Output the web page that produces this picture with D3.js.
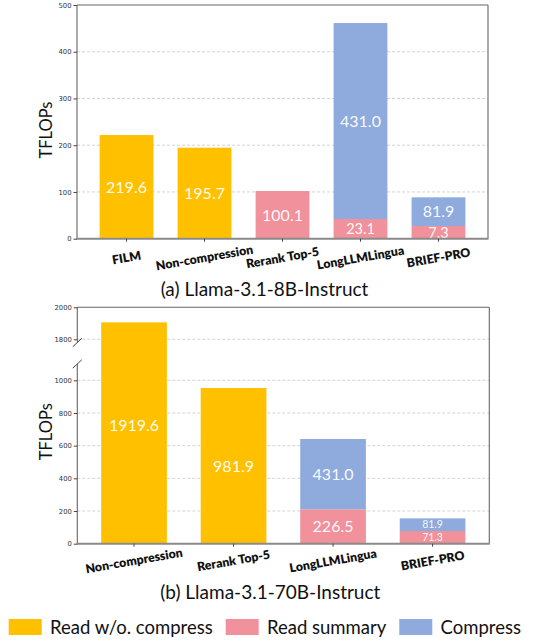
<!DOCTYPE html>
<html>
<head>
<meta charset="utf-8">
<script src="https://cdn.jsdelivr.net/npm/d3@7"></script>
<style>
  body { margin: 0; background: #fff; }
  svg { display: block; }
</style>
</head>
<body>
<svg id="chart" width="549" height="641"></svg>
<script>
// ---- panel (a): Llama-3.1-8B-Instruct ----
const catsA = ['FILM', 'Non-compression', 'Rerank Top-5', 'LongLLMLingua', 'BRIEF-PRO'];
const directA   = [221.8, 194.7, 0, 0, 0];       // read w/o. compress (bar heights)
const summaryA  = [0, 0, 102.0, 42.1, 27.2];     // read summary
const compressA = [0, 0, 0, 419.3, 61.3];        // compress
const directLabA   = ['219.6', '195.7', '', '', ''];
const summaryLabA  = ['', '', '100.1', '23.1', '7.3'];
const compressLabA = ['', '', '', '431.0', '81.9'];
const ticksA = [0, 100, 200, 300, 400, 500];

// ---- panel (b): Llama-3.1-70B-Instruct ----
const catsB = ['Non-compression', 'Rerank Top-5', 'LongLLMLingua', 'BRIEF-PRO'];
const directB   = [1906, 953, 0, 0];
const summaryB  = [0, 0, 210.5, 77.7];
const compressB = [0, 0, 430.2, 77.3];
const directLabB   = ['1919.6', '981.9', '', ''];
const summaryLabB  = ['', '', '226.5', '71.3'];
const compressLabB = ['', '', '431.0', '81.9'];
const ticksB = [0, 200, 400, 600, 800, 1000, 1800, 2000];
const breakB = [1100, 1780];   // axis break between these values

const legendNames = ['Read w/o. compress', 'Read summary', 'Compress'];

const keys = ['direct', 'summary', 'compress'];
const colors = { direct: '#FFC000', summary: '#F0919B', compress: '#8FAADC' };
const labelFont = 'Lato, "Open Sans", sans-serif';

const svg = d3.select('#chart');

function drawPanel(p) {
  const g = svg.append('g');
  const rows = p.cats.map((c, i) => ({
    cat: c, direct: p.direct[i], summary: p.summary[i], compress: p.compress[i]
  }));
  const labels = { direct: p.directLab, summary: p.summaryLab, compress: p.compressLab };
  const layers = d3.stack().keys(keys)(rows);

  const x = d3.scaleBand().domain(p.cats).range(p.xRange)
    .paddingInner(p.padIn).paddingOuter(p.padOut);
  const y = p.y;
  const [top, bottom] = [y.range()[y.range().length - 1], y.range()[0]];
  const [left, right] = p.xRange;

  // grid
  g.append('g').selectAll('line')
    .data(p.ticks.filter(t => t !== 0 && y(t) > top + 1))
    .join('line')
    .attr('x1', left).attr('x2', right)
    .attr('y1', d => y(d)).attr('y2', d => y(d))
    .attr('stroke', '#c8c8c8').attr('stroke-width', 0.8)
    .attr('stroke-dasharray', '3,2');

  // bars
  layers.forEach(layer => {
    const key = layer.key;
    layer.forEach((d, i) => {
      if (d[1] - d[0] <= 0) return;
      g.append('rect')
        .attr('x', x(rows[i].cat))
        .attr('y', y(d[1]))
        .attr('width', x.bandwidth())
        .attr('height', y(d[0]) - y(d[1]))
        .attr('fill', colors[key]);
    });
  });

  // value labels
  layers.forEach(layer => {
    const key = layer.key;
    layer.forEach((d, i) => {
      const txt = labels[key][i];
      if (!txt) return;
      const y0 = y(d[0]), y1 = y(d[1]);
      let cy = (y0 + y1) / 2;
      if (p.brk && d[1] > p.brk[1]) cy = (top + bottom) / 2;
      const size = (y0 - y1) < 22 ? p.smallLabel : 16;
      g.append('text')
        .attr('x', x(rows[i].cat) + x.bandwidth() / 2)
        .attr('y', cy)
        .attr('dy', '0.36em')
        .attr('text-anchor', 'middle')
        .attr('fill', '#fff')
        .attr('fill-opacity', 0.96)
        .style('font-family', labelFont)
        .style('font-size', size + 'px')
        .text(txt);
    });
  });

  // spines
  const spine = '#666';
  if (p.brk) {
    const b1 = y(p.brk[1]) , b0 = y(p.brk[0]);
    g.append('line').attr('x1', left).attr('x2', left).attr('y1', top).attr('y2', b1)
      .attr('stroke', spine).attr('stroke-width', 1.1);
    g.append('line').attr('x1', left).attr('x2', left).attr('y1', b0).attr('y2', bottom)
      .attr('stroke', spine).attr('stroke-width', 1.1);
    [b1, b0].forEach(by => {
      g.append('line').attr('x1', left - 4.5).attr('y1', by + 4.2)
        .attr('x2', left + 4.5).attr('y2', by - 4.2)
        .attr('stroke', '#444').attr('stroke-width', 1);
    });
  } else {
    g.append('line').attr('x1', left).attr('x2', left).attr('y1', top).attr('y2', bottom)
      .attr('stroke', spine).attr('stroke-width', 1.1);
  }
  g.append('line').attr('x1', left).attr('x2', right).attr('y1', top).attr('y2', top)
    .attr('stroke', spine).attr('stroke-width', 1.1);
  g.append('line').attr('x1', right).attr('x2', right).attr('y1', top).attr('y2', bottom)
    .attr('stroke', spine).attr('stroke-width', 1.1);
  g.append('line').attr('x1', left - 0.5).attr('x2', right + 0.5).attr('y1', bottom).attr('y2', bottom)
    .attr('stroke', '#8a8a8a').attr('stroke-width', 2);

  // y axis ticks
  const ya = g.append('g').attr('transform', `translate(${left},0)`)
    .call(d3.axisLeft(y).tickValues(p.ticks).tickFormat(d3.format('d'))
      .tickSize(3.5).tickPadding(2));
  ya.select('.domain').remove();
  ya.selectAll('line').attr('stroke', '#444');
  ya.selectAll('text')
    .style('font-family', '"DejaVu Sans", sans-serif')
    .style('font-size', '6.8px')
    .attr('fill', '#333');

  // x ticks and labels
  p.cats.forEach(c => {
    const cx = x(c) + x.bandwidth() / 2;
    g.append('line').attr('x1', cx).attr('x2', cx).attr('y1', bottom).attr('y2', bottom + 3)
      .attr('stroke', '#444');
    g.append('text')
      .attr('transform', `translate(${cx},${bottom + p.xLabOff}) rotate(-10)`)
      .attr('text-anchor', 'middle')
      .attr('dy', '0.35em')
      .style('font-family', labelFont)
      .style('font-weight', 800)
      .style('font-size', '12.3px')
      .attr('fill', '#111')
      .text(c);
  });

  // y title
  g.append('text')
    .attr('transform', `translate(${p.yTitle[0]},${p.yTitle[1]}) rotate(-90)`)
    .attr('text-anchor', 'middle')
    .attr('dy', '0.35em')
    .style('font-family', labelFont)
    .style('font-size', '16.5px')
    .attr('fill', '#111')
    .text('TFLOPs');

  // caption
  g.append('text')
    .attr('x', p.caption[0]).attr('y', p.caption[1])
    .attr('text-anchor', 'middle')
    .style('font-family', labelFont)
    .style('font-size', '19px')
    .attr('fill', '#111')
    .text(p.title);
}

drawPanel({
  cats: catsA, direct: directA, summary: summaryA, compress: compressA,
  directLab: directLabA, summaryLab: summaryLabA, compressLab: compressLabA,
  ticks: ticksA,
  xRange: [77, 488], padIn: 0.31, padOut: 0.29,
  y: d3.scaleLinear().domain([0, 500]).range([238.7, 5]),
  smallLabel: 14.5, xLabOff: 19,
  yTitle: [46.5, 130], caption: [264.5, 295.5],
  title: '(a) Llama-3.1-8B-Instruct'
});

drawPanel({
  cats: catsB, direct: directB, summary: summaryB, compress: compressB,
  directLab: directLabB, summaryLab: summaryLabB, compressLab: compressLabB,
  ticks: ticksB, brk: breakB,
  xRange: [77.3, 489.3], padIn: 0.34, padOut: 0.24,
  y: d3.scaleLinear().domain([0, breakB[0], breakB[1], 2000])
    .range([543.7, 543.7 - breakB[0] * 0.1634, 339.3 + (1800 - breakB[1]) * 0.16, 307.3]),
  smallLabel: 10.5, xLabOff: 17,
  yTitle: [46, 431.7], caption: [270.3, 599],
  title: '(b) Llama-3.1-70B-Instruct'
});

// legend
const lg = svg.append('g');
let lx = 8.7;
legendNames.forEach((name, i) => {
  lg.append('rect').attr('x', lx).attr('y', 619).attr('width', 33).attr('height', 16)
    .attr('fill', colors[keys[i]]);
  const t = lg.append('text').attr('x', lx + 41.3).attr('y', 634)
    .style('font-family', labelFont).style('font-size', '18.5px').attr('fill', '#111')
    .text(name);
  lx += 41.3 + t.node().getComputedTextLength() + 13;
});
</script>
</body>
</html>
